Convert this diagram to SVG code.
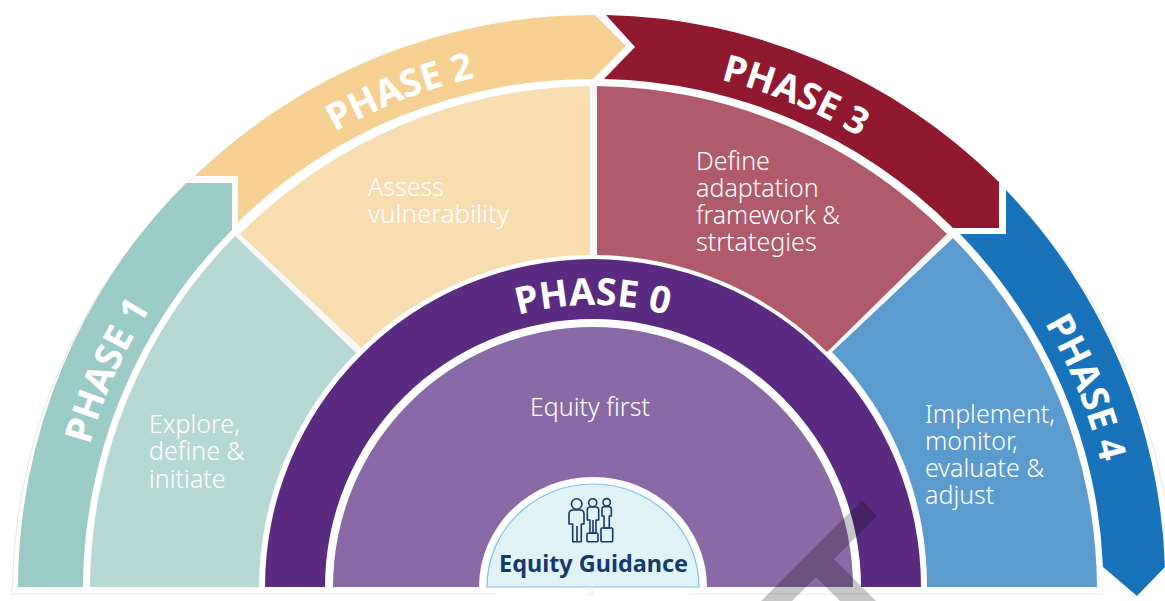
<svg xmlns="http://www.w3.org/2000/svg" width="1165" height="601" viewBox="0 0 1165 601">
<style>
.ph{font-family:"Noto Sans","Open Sans",sans-serif;font-weight:700;font-size:37.5px;fill:#fff;text-anchor:middle}
.bd{font-family:"Noto Sans","Open Sans",sans-serif;font-weight:300;font-size:25px;fill:#fff}
.ic{fill:none;stroke:#173a6c;stroke-width:1.6;stroke-linejoin:round}
</style>
<defs>
<path id="arc523" d="M256.8,186.4 A523,523 0 0 1 929.2,186.4"/>
<path id="arc282" d="M411.7,371 A282,282 0 0 1 774.3,371"/>
</defs>
<rect width="1165" height="601" fill="#fff"/>
<g id="outline" fill="none" stroke="#cfcfcf" stroke-width="0.5">
<path d="M11,594 L12.5,587 A580.5,580.5 0 0 1 1165,500"/>
<path d="M11,594 H497 M690,594 H1103"/>
<circle cx="591" cy="592" r="3"/>
</g>
<g id="dividers" stroke="#f7f7f7" stroke-width="7">
<path d="M237,234 L358,351"/>
<path d="M593.5,82 V258"/>
<path d="M950,234 L830,352"/>
</g>
<g id="phase1"><path fill="#9bcbc7" d="M18,587 A573,573 0 0 1 186,183 L232,183 L232,230 A509,509 0 0 0 83,587 Z"/>
<text class="ph" transform="rotate(-66 593 587)"><textPath href="#arc523" startOffset="50%">PHASE 1</textPath></text></g>
<g id="phase2"><path fill="#f7d193" d="M195,176 L238,176 L238,222 A509,509 0 0 1 593,79 L626,46 L595,15 A572,572 0 0 0 195,176 Z"/>
<text class="ph" transform="rotate(-21.3 593 587)"><textPath href="#arc523" startOffset="50%">PHASE 2</textPath></text></g>
<g id="phase3"><path fill="#90182f" d="M606,15 L635,47 L604,79 A508,508 0 0 1 953,228 L999,228 L999,182 A573,573 0 0 0 606,15 Z"/>
<text class="ph" transform="rotate(22.4 593 587)"><textPath href="#arc523" startOffset="50%">PHASE 3</textPath></text></g>
<g id="phase4"><path fill="#1873ba" d="M1006,190 L1006,234 L960,234 A509,509 0 0 1 1103,567 L1137,596 L1165,567 A573,573 0 0 0 1006,190 Z"/>
<text class="ph" transform="rotate(68 593 587)"><textPath href="#arc523" startOffset="50%">PHASE 4</textPath></text></g>
<g id="panel1"><path fill="#b7d9d3" d="M90,587 A503,503 0 0 1 235,236 L356,353 A334,334 0 0 0 259,587 Z"/>
<text class="bd" x="149" y="433">Explore,</text><text class="bd" x="149" y="460">define &amp;</text><text class="bd" x="149" y="488">initiate</text></g>
<g id="panel2"><path fill="#f8ddb0" d="M240,234 A502,502 0 0 1 590,86 L590,255 A332,332 0 0 0 361,348 Z"/>
<text class="bd" x="368" y="196">Assess</text><text class="bd" x="368" y="223" textLength="141" lengthAdjust="spacingAndGlyphs">vulnerability</text></g>
<g id="panel3"><path fill="#b05b6c" d="M597,86 A502,502 0 0 1 947,234 L827,352 A332,332 0 0 0 597,255 Z"/>
<text class="bd" x="696" y="170">Define</text><text class="bd" x="696" y="197">adaptation</text><text class="bd" x="696" y="224" textLength="144" lengthAdjust="spacingAndGlyphs">framework &amp;</text><text class="bd" x="696" y="251">strtategies</text></g>
<g id="panel4"><path fill="#5b9bce" d="M953,238 A503,503 0 0 1 1097,587 L927,587 A334,334 0 0 0 832,352 Z"/>
<text class="bd" x="925" y="423" textLength="130" lengthAdjust="spacingAndGlyphs">Implement,</text><text class="bd" x="925" y="450">monitor,</text><text class="bd" x="925" y="477">evaluate &amp;</text><text class="bd" x="925" y="504">adjust</text></g>
<g id="phase0"><path fill="#5a2b80" d="M265,587 A328,328 0 0 1 921,587 L861,587 A268,268 0 0 0 325,587 Z"/>
<text class="ph"><textPath href="#arc282" startOffset="50%">PHASE 0</textPath></text></g>
<g id="equity-first"><path fill="#8a6aa6" d="M333,587 A260,260 0 0 1 853,587 Z"/>
<text class="bd" x="590" y="416" text-anchor="middle">Equity first</text></g>
<g id="equity-guidance">
<path fill="#fff" d="M479,587 A114,110 0 0 1 707,587 Z"/>
<path fill="#e0f3f6" stroke="#7cc0ee" stroke-width="1.2" d="M487,587 A106,103 0 0 1 699,587 Z"/>
<g class="ic">
<circle cx="576.7" cy="504" r="5.3"/>
<path d="M569,524 V514 Q569,510 573,510 H580 Q584,510 584,514 V524 H581.3 V541.7 H572.7 V524 Z M577,526 V541.7"/>
<circle cx="592.7" cy="502.7" r="4"/>
<path d="M587.3,520 V510 Q587.3,507 590,507 H596 Q598.7,507 598.7,510 V520 H596 V533 H590 V520 Z M593,520 V533"/>
<rect x="587" y="533.3" width="11" height="8.4" rx="1"/>
<circle cx="606.7" cy="502.3" r="3.7"/>
<path d="M602,516 V509 Q602,506.7 604,506.7 H609.3 Q611.3,506.7 611.3,509 V516 H609.3 V528 H604 V516 Z"/>
<rect x="601" y="528" width="11.7" height="13.7" rx="1"/>
</g>
<text x="593.5" y="572" text-anchor="middle" font-family="Noto Sans, Open Sans, sans-serif" font-weight="700" font-size="23.4" fill="#173a6c">Equity Guidance</text>
</g>
<path id="watermark" fill="#000" fill-opacity="0.22" d="M862,500 L877,516 L834,559 L876,601 L840,601 L816,577 L792,601 L761,601 Z"/>
</svg>
